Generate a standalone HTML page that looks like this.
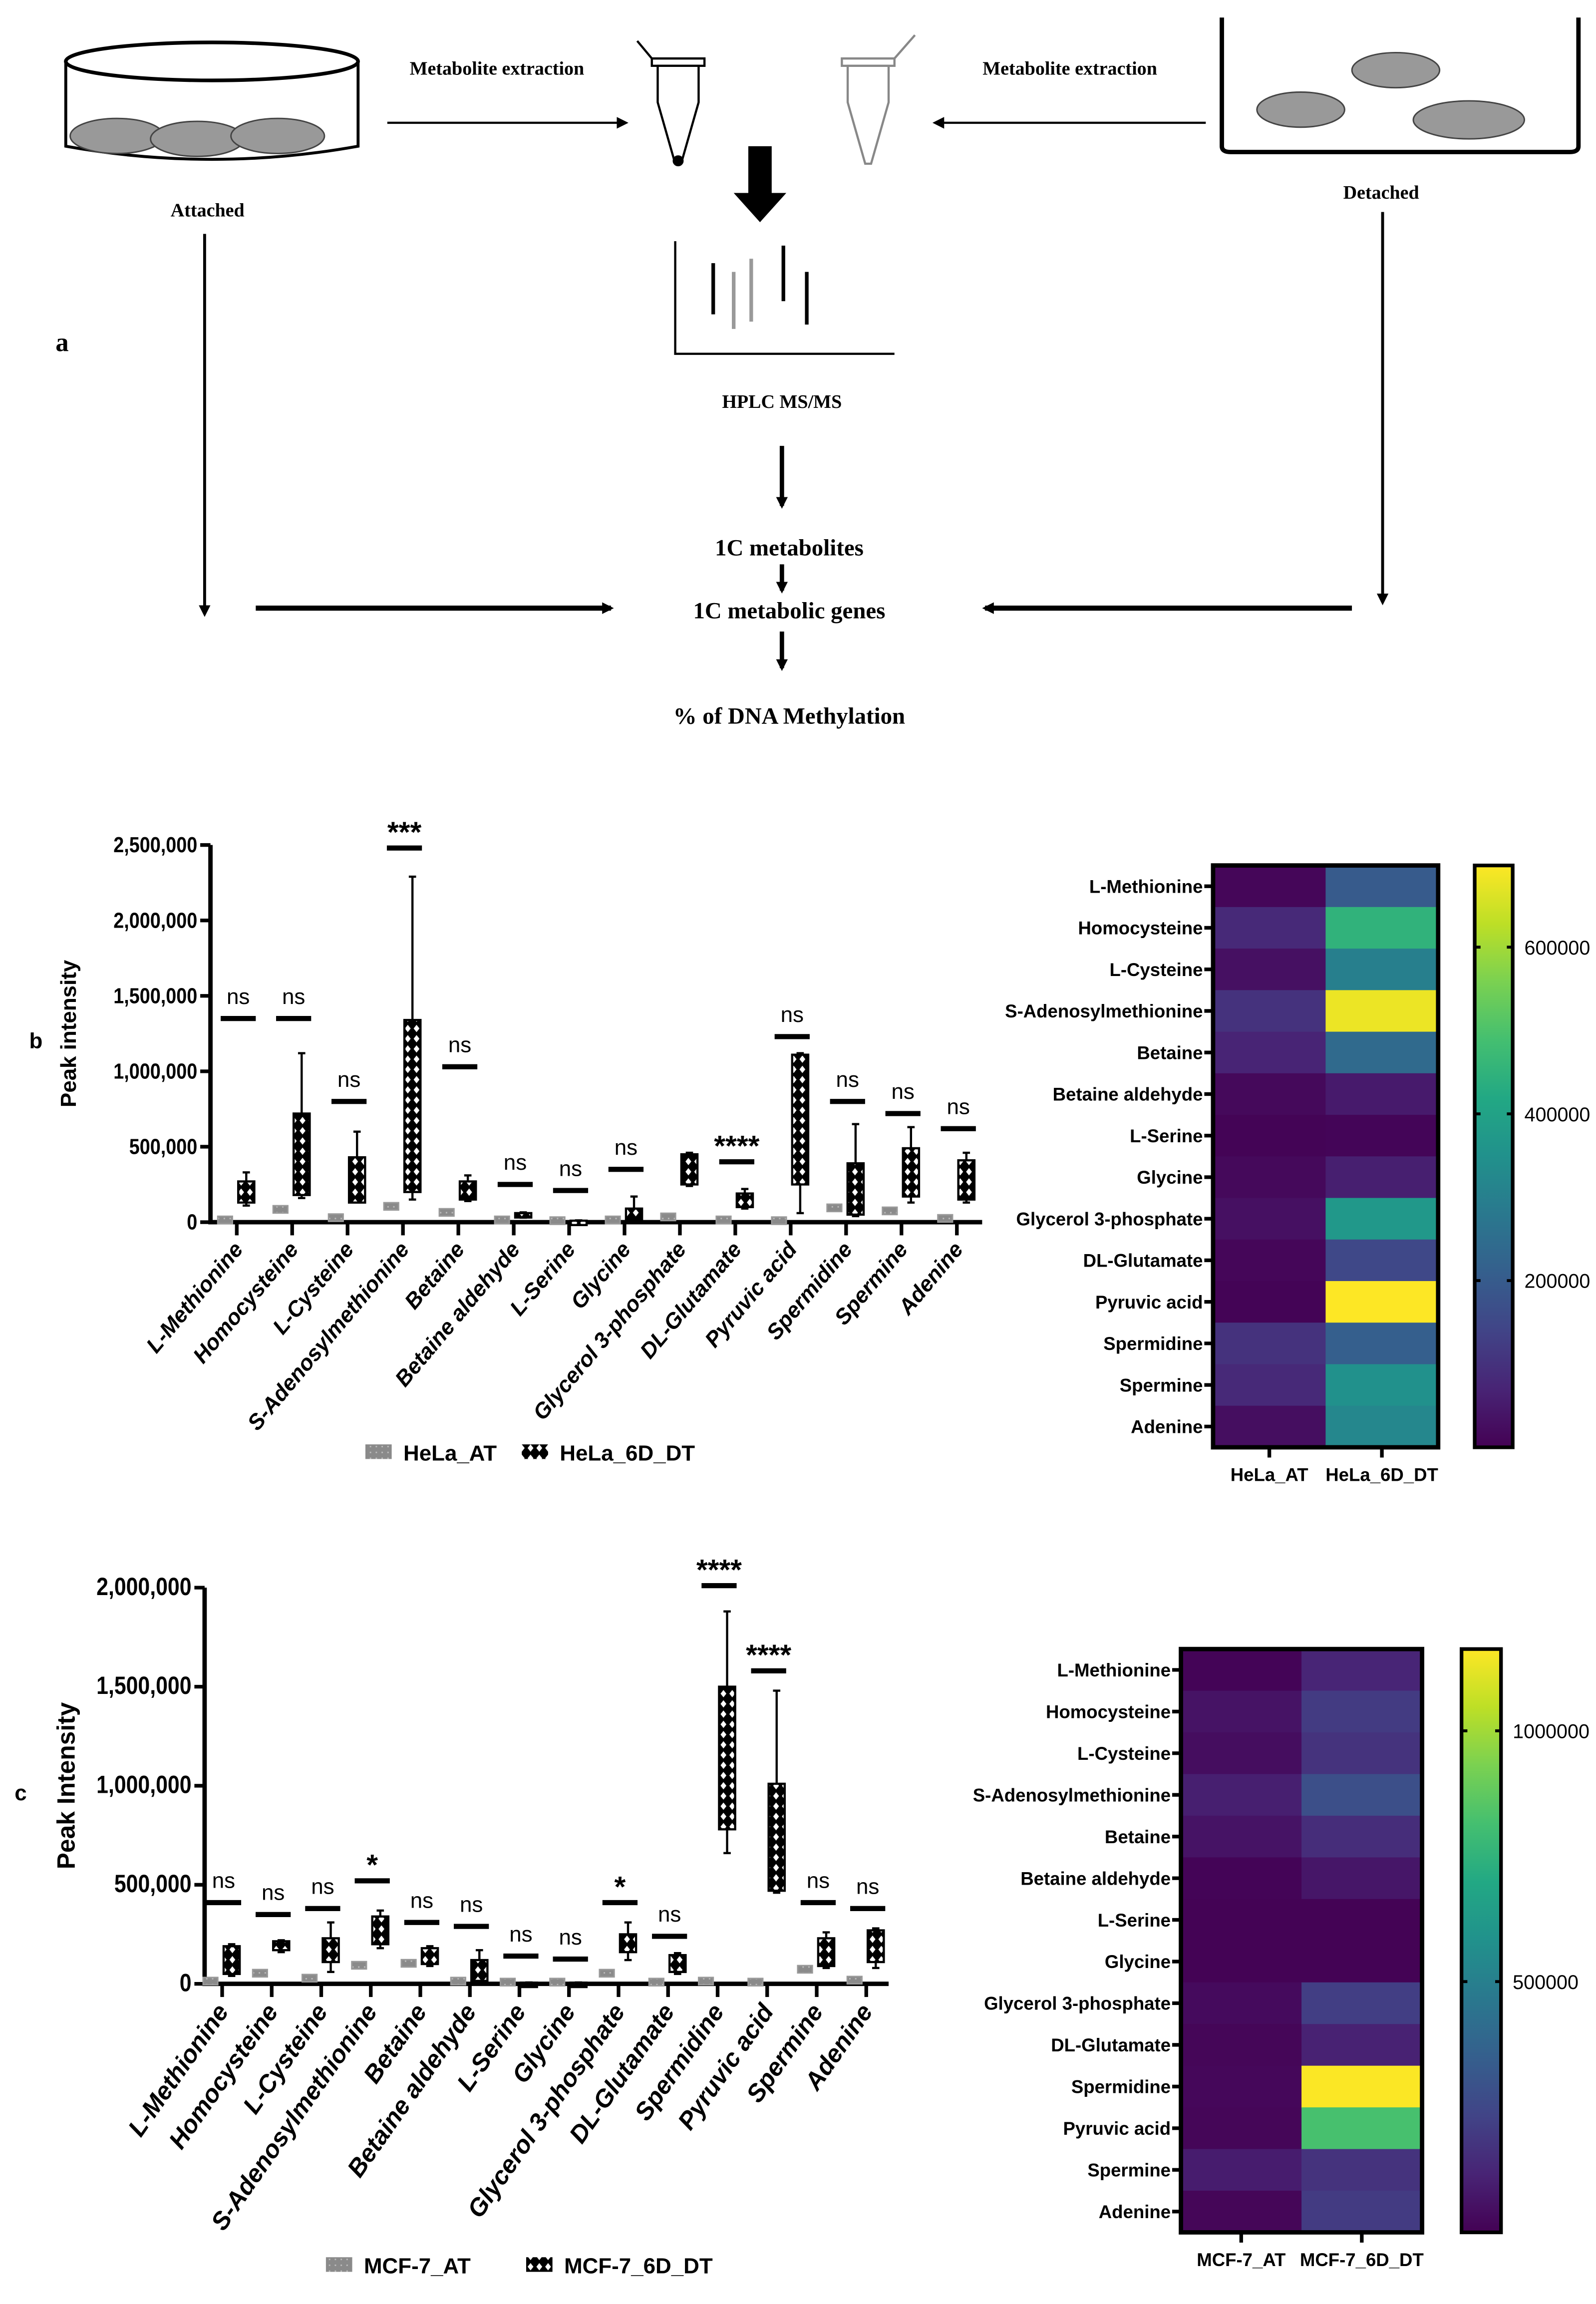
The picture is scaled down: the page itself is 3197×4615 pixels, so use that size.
<!DOCTYPE html>
<html><head><meta charset="utf-8"><style>
html,body{margin:0;padding:0;background:#fff}
svg{display:block}
text{font-family:"Liberation Sans",Arial,sans-serif}
.serif{font-family:"Liberation Serif",serif;font-weight:bold}
</style></head><body>
<svg id="fig" width="3197" height="4615" viewBox="0 0 1092 1576" preserveAspectRatio="none" xmlns="http://www.w3.org/2000/svg">
<defs>
<pattern id="dots" width="6" height="7" patternUnits="userSpaceOnUse"><rect width="6" height="7" fill="#000"/><path d="M3 1 L5 3.5 L3 6 L1 3.5Z" fill="#fff"/></pattern>
<pattern id="gdots" width="4" height="4" patternUnits="userSpaceOnUse"><rect width="4" height="4" fill="#8a8a8a"/><rect x="1" y="1" width="1" height="1" fill="#bbb"/></pattern>
<marker id="ah" markerWidth="8" markerHeight="8" refX="6" refY="4" orient="auto" markerUnits="userSpaceOnUse"><path d="M0 0 L8 4 L0 8Z" fill="#000"/></marker>
<linearGradient id="vir" x1="0" y1="1" x2="0" y2="0">
<stop offset="0" stop-color="#440154"/><stop offset="0.1" stop-color="#482475"/><stop offset="0.2" stop-color="#414487"/><stop offset="0.3" stop-color="#355f8d"/><stop offset="0.4" stop-color="#2a788e"/><stop offset="0.5" stop-color="#21918c"/><stop offset="0.6" stop-color="#22a884"/><stop offset="0.7" stop-color="#44bf70"/><stop offset="0.8" stop-color="#7ad151"/><stop offset="0.9" stop-color="#bddf26"/><stop offset="1" stop-color="#fde725"/></linearGradient>
</defs>
<g>
<text x="38" y="240" font-size="18" class="serif">a</text>
<g>
<path d="M45 42 L45 100 Q145 118 245 100 L245 42" fill="none" stroke="#000" stroke-width="2"/>
<ellipse cx="145" cy="42" rx="100" ry="13" fill="#fff" stroke="#000" stroke-width="2.5"/>
<g fill="#999" stroke="#444" stroke-width="1">
<ellipse cx="80" cy="93" rx="32" ry="12"/><ellipse cx="135" cy="95" rx="32" ry="12"/><ellipse cx="190" cy="93" rx="32" ry="12"/></g>
</g>
<text x="142" y="148" font-size="13" class="serif" text-anchor="middle">Attached</text>
<text x="340" y="51" font-size="13" class="serif" text-anchor="middle">Metabolite extraction</text>
<line x1="265" y1="84" x2="428" y2="84" stroke="#000" stroke-width="1.5" marker-end="url(#ah)"/>
<g fill="none" stroke="#000" stroke-width="1.5">
<path d="M450 45 L478 45 L478 70 L466 112 L462 112 L450 70Z"/><path d="M446 40 L482 40 L482 45 L446 45Z"/><path d="M446 40 L436 28"/>
<ellipse cx="464" cy="110" rx="3" ry="3" fill="#000"/></g>
<g fill="none" stroke="#888" stroke-width="1.5">
<path d="M580 45 L608 45 L608 70 L596 112 L592 112 L580 70Z"/><path d="M576 40 L612 40 L612 45 L576 45Z"/><path d="M612 40 L626 24"/></g>
<text x="732" y="51" font-size="13" class="serif" text-anchor="middle">Metabolite extraction</text>
<line x1="825" y1="84" x2="640" y2="84" stroke="#000" stroke-width="1.5" marker-end="url(#ah)"/>
<g>
<path d="M836 12 L836 100 Q836 104 842 104 L1074 104 Q1080 104 1080 100 L1080 12" fill="none" stroke="#000" stroke-width="3"/>
<g fill="#999" stroke="#444" stroke-width="1">
<ellipse cx="955" cy="48" rx="30" ry="12"/><ellipse cx="890" cy="75" rx="30" ry="12"/><ellipse cx="1005" cy="82" rx="38" ry="13"/></g>
</g>
<text x="945" y="136" font-size="13" class="serif" text-anchor="middle">Detached</text>
<path d="M512 100 L528 100 L528 132 L538 132 L520 152 L502 132 L512 132Z" fill="#000"/>
<g stroke-width="2.5">
<path d="M462 165 L462 242 L612 242" fill="none" stroke="#000" stroke-width="1.5"/>
<line x1="488" y1="180" x2="488" y2="215" stroke="#000"/><line x1="502" y1="186" x2="502" y2="225" stroke="#999"/>
<line x1="514" y1="177" x2="514" y2="220" stroke="#999"/><line x1="536" y1="168" x2="536" y2="206" stroke="#000"/>
<line x1="552" y1="186" x2="552" y2="222" stroke="#000"/></g>
<text x="535" y="279" font-size="13" class="serif" text-anchor="middle">HPLC MS/MS</text>
<line x1="535" y1="305" x2="535" y2="346" stroke="#000" stroke-width="3" marker-end="url(#ah)"/>
<text x="540" y="380" font-size="16" class="serif" text-anchor="middle">1C metabolites</text>
<line x1="535" y1="386" x2="535" y2="404" stroke="#000" stroke-width="3" marker-end="url(#ah)"/>
<text x="540" y="423" font-size="16" class="serif" text-anchor="middle">1C metabolic genes</text>
<line x1="535" y1="432" x2="535" y2="457" stroke="#000" stroke-width="3" marker-end="url(#ah)"/>
<text x="540" y="495" font-size="16" class="serif" text-anchor="middle">% of DNA Methylation</text>
<line x1="140" y1="160" x2="140" y2="420" stroke="#000" stroke-width="2" marker-end="url(#ah)"/>
<line x1="946" y1="145" x2="946" y2="412" stroke="#000" stroke-width="2" marker-end="url(#ah)"/>
<line x1="175" y1="416" x2="418" y2="416" stroke="#000" stroke-width="3.5" marker-end="url(#ah)"/>
<line x1="925" y1="416" x2="674" y2="416" stroke="#000" stroke-width="3.5" marker-end="url(#ah)"/>
</g>
<g id="chartB"></g>
<g id="heatB"></g>
<g id="chartC"></g>
<g id="heatC"></g>
</svg>
<script>
const catsB=["L-Methionine","Homocysteine","L-Cysteine","S-Adenosylmethionine","Betaine","Betaine aldehyde","L-Serine","Glycine","Glycerol 3-phosphate","DL-Glutamate","Pyruvic acid","Spermidine","Spermine","Adenine"];
const catsC=["L-Methionine","Homocysteine","L-Cysteine","S-Adenosylmethionine","Betaine","Betaine aldehyde","L-Serine","Glycine","Glycerol 3-phosphate","DL-Glutamate","Spermidine","Pyruvic acid","Spermine","Adenine"];
const bAT=[10000,80000,25000,100000,60000,10000,5000,10000,30000,10000,5000,90000,70000,20000];
const bDT=[[110000,130000,200000,270000,330000],[160000,180000,450000,720000,1120000],[130000,130000,300000,430000,600000],[150000,200000,700000,1340000,2290000],[140000,150000,220000,270000,310000],[30000,35000,50000,60000,65000],[5000,5000,8000,10000,12000],[10000,20000,60000,90000,170000],[240000,250000,350000,450000,460000],[90000,100000,150000,190000,220000],[60000,250000,700000,1110000,1120000],[40000,50000,200000,390000,650000],[130000,170000,350000,490000,630000],[130000,150000,300000,410000,460000]];
const bSigY=[1350000,1350000,800000,2480000,1030000,250000,210000,350000,null,400000,1230000,800000,720000,620000];
const bSigT=["ns","ns","ns","***","ns","ns","ns","ns","","****","ns","ns","ns","ns"];
const bTicks=[0,500000,1000000,1500000,2000000,2500000];
const bTickLabels=["0","500,000","1,000,000","1,500,000","2,000,000","2,500,000"];
const cAT=[10000,50000,25000,90000,100000,10000,5000,5000,50000,5000,10000,5000,70000,15000];
const cDT=[[40000,50000,120000,190000,200000],[160000,170000,200000,215000,220000],[60000,110000,180000,230000,310000],[180000,200000,280000,340000,370000],[90000,100000,140000,180000,190000],[10000,15000,60000,120000,170000],[3000,4000,5000,6000,7000],[3000,4000,5000,6000,7000],[120000,160000,210000,250000,310000],[50000,60000,110000,145000,155000],[660000,780000,1150000,1500000,1880000],[460000,470000,800000,1010000,1480000],[80000,90000,170000,230000,260000],[80000,110000,200000,270000,280000]];
const cSigY=[410000,350000,380000,520000,310000,290000,140000,125000,410000,240000,2010000,1580000,410000,380000];
const cSigT=["ns","ns","ns","*","ns","ns","ns","ns","*","ns","****","****","ns","ns"];
const cTicks=[0,500000,1000000,1500000,2000000];
const cTickLabels=["0","500,000","1,000,000","1,500,000","2,000,000"];
const hbAT=[10000,80000,30000,100000,70000,15000,5000,15000,30000,10000,5000,100000,80000,25000];
const hbDT=[200000,450000,300000,680000,240000,50000,8000,60000,370000,150000,700000,210000,350000,320000];
const hbTicks=[200000,400000,600000];
const hcAT=[10000,60000,40000,100000,60000,10000,5000,5000,30000,15000,20000,15000,90000,15000];
const hcDT=[120000,200000,170000,280000,150000,70000,5000,5000,210000,110000,1160000,820000,170000,200000];
const hcTicks=[500000,1000000];
const NS="http://www.w3.org/2000/svg";
function mk(p,t,a,txt){const e=document.createElementNS(NS,t);for(const k in a)e.setAttribute(k,a[k]);if(txt!==undefined)e.textContent=txt;p.appendChild(e);return e;}
const VIR=[[68,1,84],[72,36,117],[65,68,135],[53,95,141],[42,120,142],[33,145,140],[34,168,132],[68,191,112],[122,209,81],[189,223,38],[253,231,37]];
function viridis(t){t=Math.max(0,Math.min(1,t));const s=t*(VIR.length-1),i=Math.min(VIR.length-2,Math.floor(s)),f=s-i;const c=VIR[i].map((v,k)=>Math.round(v+(VIR[i+1][k]-v)*f));return `rgb(${c})`;}
function boxChart(g,o){
 const y=v=>o.y0-(v/o.vmax)*(o.y0-o.ytop);
 const x=i=>o.x0+i*o.dx;
 const ax=mk(g,'path',{d:`M${o.ax} ${y(o.ticks[o.ticks.length-1])} L${o.ax} ${o.y0} L${o.axEnd} ${o.y0}`,fill:'none',stroke:'#000','stroke-width':3});
 
 
 o.ticks.forEach((t,i)=>{mk(g,'line',{x1:o.ax-7,x2:o.ax,y1:y(t),y2:y(t),stroke:'#000','stroke-width':2.5});
  const tl=mk(g,'text',{x:o.ax-9,y:y(t)+5,'font-size':o.fs,'font-weight':'bold','text-anchor':'end',transform:`translate(${o.ax-9} 0) scale(0.86 1) translate(${-(o.ax-9)} 0)`},o.tickLabels[i]);
  
  });
 const yt=mk(g,'text',{x:0,y:0,'font-size':o.yfs,'font-weight':'bold','text-anchor':'middle',transform:`translate(${o.ytx} ${(o.y0+o.ytop)/2}) rotate(-90)`},o.ytitle);
 
 
 const pl=mk(g,'text',{x:o.plx,y:(o.y0+o.ytop)/2+10,'font-size':15,'font-weight':'bold'},o.panel);
 
 
 o.cats.forEach((c,i)=>{const cx=x(i);
  mk(g,'line',{x1:cx,x2:cx,y1:o.y0,y2:o.y0+9,stroke:'#000','stroke-width':2.5});
  const lb=mk(g,'text',{x:0,y:0,'font-size':o.lfs,'font-weight':'bold','font-style':'italic','text-anchor':'end',transform:`translate(${cx+5} ${o.y0+19}) rotate(${o.rot})`},c);
  
  
  const a=o.at[i];const ab=mk(g,'rect',{x:cx-13,y:y(a)-3,width:10,height:5,fill:'url(#gdots)',stroke:'#999','stroke-width':1});
  
  
  const d=o.dt[i];const bx=cx+1,w=11,mx=bx+w/2;
  mk(g,'line',{x1:mx,x2:mx,y1:y(d[4]),y2:y(d[0]),stroke:'#000','stroke-width':1.5});
  mk(g,'line',{x1:mx-2.5,x2:mx+2.5,y1:y(d[4]),y2:y(d[4]),stroke:'#000','stroke-width':1.5});
  mk(g,'line',{x1:mx-2.5,x2:mx+2.5,y1:y(d[0]),y2:y(d[0]),stroke:'#000','stroke-width':1.5});
  const db=mk(g,'rect',{x:bx,y:y(d[3]),width:w,height:Math.max(3,y(d[1])-y(d[3])),fill:'url(#dots)',stroke:'#000','stroke-width':1.5});
  
  
  if(o.sigY[i]!==null){const sy=y(o.sigY[i]);
   mk(g,'line',{x1:cx-11,x2:cx+13,y1:sy,y2:sy,stroke:'#000','stroke-width':3.5});
   const st=mk(g,'text',{x:cx+1,y:sy-(o.sigT[i]==='ns'?10:4),'font-size':o.sigT[i]==='ns'?15:20,'font-weight':o.sigT[i]==='ns'?'normal':'bold','text-anchor':'middle'},o.sigT[i]);
   
   }
 });
 const l1=mk(g,'rect',{x:o.lgx,y:o.lgy-9,width:18,height:10,fill:'url(#gdots)'});
 
 
 const t1=mk(g,'text',{x:o.lgx+26,y:o.lgy+2,'font-size':15,'font-weight':'bold'},o.leg[0]);
 
 
 const l2=mk(g,'rect',{x:o.lgx2,y:o.lgy-9,width:18,height:10,fill:'url(#dots)'});
 
 
 const t2=mk(g,'text',{x:o.lgx2+26,y:o.lgy+2,'font-size':15,'font-weight':'bold'},o.leg[1]);
 
 
}
function heat(g,o){
 const n=o.cats.length,rh=(o.bot-o.top)/n,cw=(o.right-o.left)/2;
 const cv=v=>viridis(v/o.vmax);
 [o.a,o.b].forEach((arr,j)=>arr.forEach((v,i)=>{const r=mk(g,'rect',{x:o.left+j*cw,y:o.top+i*rh,width:cw+0.5,height:rh+0.5,fill:cv(v)});
  
  }));
 mk(g,'rect',{x:o.left,y:o.top,width:o.right-o.left,height:o.bot-o.top,fill:'none',stroke:'#000','stroke-width':3});
 o.cats.forEach((c,i)=>{const cy=o.top+(i+0.5)*rh;mk(g,'line',{x1:o.left-6,x2:o.left,y1:cy,y2:cy,stroke:'#000','stroke-width':2.5});
  const t=mk(g,'text',{x:o.left-7,y:cy+4.5,'font-size':12.5,'font-weight':'bold','text-anchor':'end'},c);
  
  });
 o.cols.forEach((c,j)=>{const cx=o.left+(j+0.5)*cw;mk(g,'line',{x1:cx,x2:cx,y1:o.bot,y2:o.bot+7,stroke:'#000','stroke-width':2.5});
  const t=mk(g,'text',{x:cx,y:o.bot+23,'font-size':12.5,'font-weight':'bold','text-anchor':'middle'},c);
  
  });
 const cb=mk(g,'rect',{x:o.cbx,y:o.top,width:o.cbw,height:o.bot-o.top,fill:'url(#vir)',stroke:'#000','stroke-width':2.5});
 
 
 o.ticks.forEach(t=>{const ty=o.bot-(t/o.vmax)*(o.bot-o.top);
  mk(g,'line',{x1:o.cbx,x2:o.cbx+4,y1:ty,y2:ty,stroke:'#000','stroke-width':2});
  mk(g,'line',{x1:o.cbx+o.cbw-4,x2:o.cbx+o.cbw,y1:ty,y2:ty,stroke:'#000','stroke-width':2});
  const tl=mk(g,'text',{x:o.cbx+o.cbw+8,y:ty+5,'font-size':13.5},String(t));
  
  });
}
boxChart(document.getElementById('chartB'),{cats:catsB,at:bAT,dt:bDT,sigY:bSigY,sigT:bSigT,ticks:bTicks,tickLabels:bTickLabels,vmax:2500000,y0:836,ytop:578,ax:144,axEnd:672,x0:162,dx:37.9,fs:15,yfs:15,lfs:15,rot:-50,ytitle:"Peak intensity",ytx:52,panel:"b",plx:20,lgx:250,lgx2:357,lgy:997,leg:["HeLa_AT","HeLa_6D_DT"]});
heat(document.getElementById('heatB'),{cats:catsB,a:hbAT,b:hbDT,vmax:698000,left:830,right:984,top:592,bot:990,cbx:1009,cbw:26,ticks:hbTicks,cols:["HeLa_AT","HeLa_6D_DT"]});
boxChart(document.getElementById('chartC'),{cats:catsC,at:cAT,dt:cDT,sigY:cSigY,sigT:cSigT,ticks:cTicks,tickLabels:cTickLabels,vmax:2000000,y0:1357,ytop:1086,ax:140,axEnd:608,x0:152,dx:33.9,fs:17,yfs:17,lfs:17,rot:-55,ytitle:"Peak Intensity",ytx:51,panel:"c",plx:10,lgx:223,lgx2:360,lgy:1553,leg:["MCF-7_AT","MCF-7_6D_DT"]});
heat(document.getElementById('heatC'),{cats:catsC,a:hcAT,b:hcDT,vmax:1163000,left:808,right:973,top:1128,bot:1527,cbx:1000,cbw:27,ticks:hcTicks,cols:["MCF-7_AT","MCF-7_6D_DT"]});
</script>
</body></html>
